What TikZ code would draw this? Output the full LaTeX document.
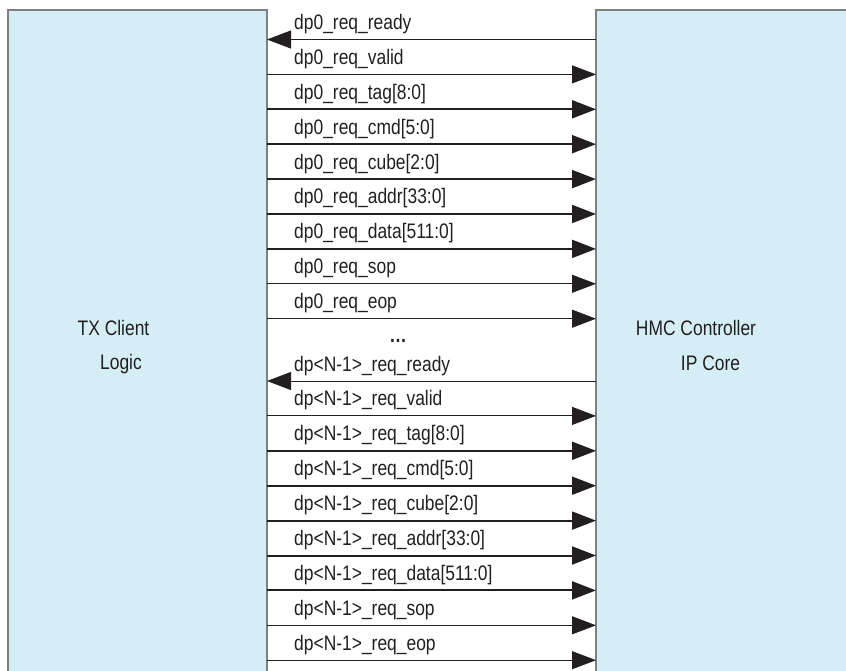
\documentclass[tikz,border=0pt]{standalone}
\usepackage{fontspec}
\setmainfont{Liberation Sans}[FakeStretch=0.83]
\usetikzlibrary{arrows.meta}
\definecolor{boxfill}{HTML}{D5EEF6}
\definecolor{boxline}{HTML}{7F7F7F}
\definecolor{ink}{HTML}{231F20}
\begin{document}
\begin{tikzpicture}[x=1pt,y=-1pt,
  blk/.style={draw=boxline, line width=1.5pt, fill=boxfill, anchor=north west, inner sep=0pt, outer sep=0pt},
  sig/.style={draw=ink, line width=1pt, -{Triangle[length=24pt,width=18pt]}},
  bus/.style={sig, line width=2pt},
  rdy/.style={draw=ink, line width=1pt, {Triangle[length=24pt,width=18pt]}-},
  lbl/.style={anchor=base west, inner sep=0pt, font=\fontsize{21}{24}\selectfont, text=ink},
  blbl/.style={anchor=base, inner sep=0pt, font=\fontsize{21}{24}\selectfont, text=ink},
  ]
\useasboundingbox (0,0) rectangle (846,671);
\clip (0,0) rectangle (846,671);
% blocks
\node[blk, minimum width=259pt, minimum height=700pt] (tx) at (8,10) {};
\node[blk, minimum width=270pt, minimum height=700pt] (hmc) at (596,10) {};
\node[blbl] (txa) at (113.5,335) {TX Client};
\node[blbl] (txb) at (121,369) {Logic};
\node[blbl] (hmca) at (696,335) {HMC Controller};
\node[blbl] (hmcb) at (710.5,370) {IP Core};
% signals
\foreach \grp/\gy/\pre in {0/39.5/dp0, 1/381/dp<N-1>}{
  \foreach \n/\nm/\st [count=\i from 0] in {
      a/ready/rdy, b/valid/sig, c/tag[8:0]/bus, d/cmd[5:0]/bus,
      e/cube[2:0]/bus, f/addr[33:0]/bus, g/data[511:0]/bus,
      h/sop/sig, k/eop/sig}{
    \pgfmathsetmacro{\yy}{\gy+34.9*\i}
    \coordinate (L\grp\n) at (267,\yy);
    \coordinate (R\grp\n) at (596,\yy);
    \node[lbl] (T\grp\n) at (294,\yy-10) {\pre\_req\_\nm};
    \draw[\st] (L\grp\n) -- (R\grp\n);
  }
}
\node[blbl] (dots) at (398,342) {\textbf{…}};
\end{tikzpicture}
\end{document}
